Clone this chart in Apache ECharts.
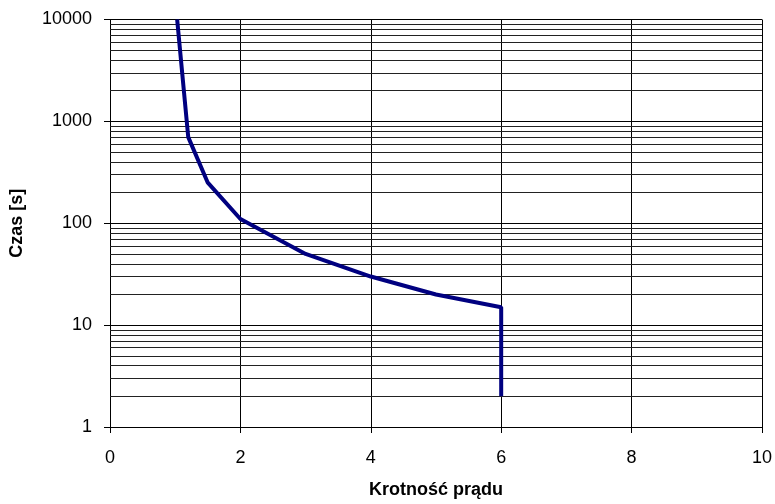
<!DOCTYPE html>
<html>
<head>
<meta charset="utf-8">
<script src="https://cdn.jsdelivr.net/npm/echarts@6/dist/echarts.min.js"></script>
<style>html,body{margin:0;padding:0;background:#fff}#c{width:775px;height:504px}</style>
</head>
<body>
<div id="c"></div>
<script>
const multiples = [1.03, 1.2, 1.5, 2, 3, 4, 5, 6, 6];
const times = [10000, 700, 250, 110, 50, 30, 20, 15, 2];
const xTitle = 'Krotność prądu';
const yTitle = 'Czas [s]';

const minorGrid = [];
[1, 10, 100, 1000].forEach(d => { for (let k = 2; k <= 9; k++) minorGrid.push(k * d); });

const chart = echarts.init(document.getElementById('c'), null, {renderer: 'canvas'});
const font = 'Liberation Sans, Arial, sans-serif';
chart.setOption({
  animation: false,
  backgroundColor: '#fff',
  grid: {left: 110, right: 13, top: 19.5, bottom: 73, containLabel: false},
  xAxis: {
    type: 'value', min: 0, max: 10, interval: 2,
    name: xTitle, nameLocation: 'middle', nameGap: 54,
    nameTextStyle: {fontFamily: font, fontSize: 18, fontWeight: 'bold', color: '#000'},
    axisLine: {show: true, onZero: false, lineStyle: {color: '#000', width: 1}},
    axisTick: {show: true, length: 6, lineStyle: {color: '#000'}},
    axisLabel: {fontFamily: font, fontSize: 18, color: '#000', margin: 22},
    splitLine: {show: true, lineStyle: {color: '#000', width: 1}}
  },
  yAxis: {
    type: 'log', logBase: 10, min: 1, max: 10000,
    name: yTitle, nameLocation: 'middle', nameGap: 84,
    nameTextStyle: {fontFamily: font, fontSize: 18, fontWeight: 'bold', color: '#000'},
    axisLine: {show: true, lineStyle: {color: '#000', width: 1}},
    axisTick: {show: true, length: 6, lineStyle: {color: '#000'}},
    axisLabel: {fontFamily: font, fontSize: 18, color: '#000', margin: 18,
      formatter: v => String(Math.round(v))},
    splitLine: {show: true, lineStyle: {color: '#000', width: 1}}
  },
  series: [
    {
      type: 'line', data: [], z: 1, silent: true,
      markLine: {
        silent: true, symbol: ['none', 'none'], animation: false,
        label: {show: false},
        lineStyle: {color: '#222', type: 'solid', width: 1},
        data: minorGrid.map(v => ({yAxis: v}))
      }
    },
    {
      type: 'line', z: 5,
      data: multiples.map((m, i) => [m, times[i]]),
      showSymbol: false, symbol: 'none',
      lineStyle: {color: '#000080', width: 4},
      itemStyle: {color: '#000080'}
    }
  ]
});
</script>
</body>
</html>
